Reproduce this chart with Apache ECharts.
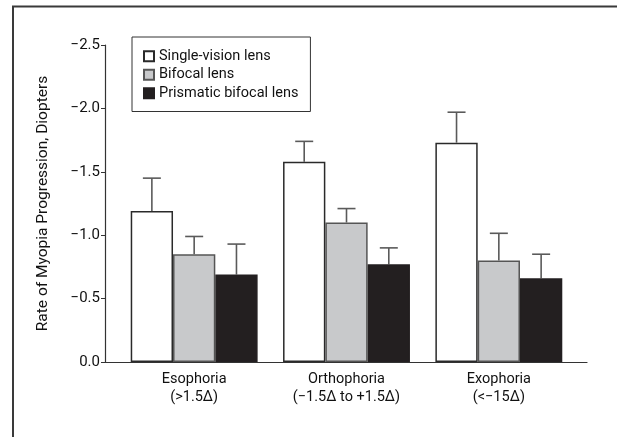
<!DOCTYPE html>
<html>
<head>
<meta charset="utf-8">
<script src="https://cdn.jsdelivr.net/npm/echarts@6/dist/echarts.min.js"></script>
<style>html,body{margin:0;padding:0;background:#fff}#c{width:617px;height:437px}</style>
</head>
<body>
<div id="c"></div>
<script>
const categories = ['Esophoria\n(>1.5\u0394)', 'Orthophoria\n(\u22121.5\u0394 to +1.5\u0394)', 'Exophoria\n(<\u221215\u0394)'];
const seriesNames = ['Single-vision lens', 'Bifocal lens', 'Prismatic bifocal lens'];
const singleVision = [-1.19, -1.58, -1.73];
const singleVisionErr = [0.26, 0.16, 0.24];
const bifocal = [-0.85, -1.10, -0.80];
const bifocalErr = [0.14, 0.11, 0.215];
const prismatic = [-0.69, -0.77, -0.66];
const prismaticErr = [0.24, 0.13, 0.19];
const yTicks = [0, -0.5, -1.0, -1.5, -2.0, -2.5];

const FONT = "Roboto, 'Liberation Sans Narrow', sans-serif";
const values = [singleVision, bifocal, prismatic];
const errs = [singleVisionErr, bifocalErr, prismaticErr];
const fills = ['#ffffff', '#c8c9cb', '#231f20'];
const borders = ['#2a2a2a', '#555555', '#231f20'];
const BAR_W = 42.3;

const chart = echarts.init(document.getElementById('c'), null, {renderer: 'canvas'});

const series = [];
values.forEach((vals, i) => {
  series.push({
    name: seriesNames[i], type: 'bar', xAxisIndex: 0, yAxisIndex: 0,
    data: vals, barWidth: BAR_W, barGap: '0%',
    itemStyle: {color: fills[i], borderColor: borders[i], borderWidth: 1.5},
    emphasis: {disabled: true}, z: 2
  });
});
values.forEach((vals, i) => {
  series.push({
    type: 'custom', xAxisIndex: 0, yAxisIndex: 0, z: 1,
    data: vals.map((v, k) => [k, v, v - errs[i][k]]),
    renderItem: function (params, api) {
      const base = api.coord([api.value(0), api.value(1)]);
      const top = api.coord([api.value(0), api.value(2)]);
      const x = base[0] + (i - 1) * BAR_W;
      const cap = 9;
      const st = {stroke: '#5a5a5a', lineWidth: 1.6};
      return {type: 'group', children: [
        {type: 'line', shape: {x1: x, y1: base[1], x2: x, y2: top[1]}, style: st},
        {type: 'line', shape: {x1: x - cap, y1: top[1], x2: x + cap, y2: top[1]}, style: st}
      ]};
    }
  });
});

const yMin = Math.min(...yTicks), yMax = Math.max(...yTicks);

chart.setOption({
  animation: false,
  textStyle: {fontFamily: FONT},
  graphic: [{type: 'rect', shape: {x: 13, y: 6.5, width: 800, height: 600},
    style: {fill: 'none', stroke: '#3a3a3a', lineWidth: 2}, silent: true}],
  grid: [
    {left: 118, right: 42, top: 45, bottom: 75},
    {left: 105, right: 30, top: 45, bottom: 75}
  ],
  legend: {
    orient: 'vertical', left: 132, top: 37,
    data: seriesNames,
    icon: 'rect', itemWidth: 10, itemHeight: 10, itemGap: 2,
    padding: [11, 12, 10, 11],
    borderColor: '#333', borderWidth: 1,
    textStyle: {fontFamily: FONT, fontSize: 14.5, color: '#111', lineHeight: 16.5},
    selectedMode: false
  },
  xAxis: [
    {gridIndex: 0, type: 'category', data: categories,
      axisLine: {show: false}, axisTick: {show: false},
      axisLabel: {fontFamily: FONT, fontSize: 14.5, color: '#111', lineHeight: 18, margin: 8}},
    {gridIndex: 1, type: 'value', min: 0, max: 1,
      axisLine: {show: true, lineStyle: {color: '#333', width: 1.2}},
      axisTick: {show: false}, axisLabel: {show: false}, splitLine: {show: false}}
  ],
  yAxis: [
    {gridIndex: 0, type: 'value', min: yMin, max: yMax, inverse: true, show: false},
    {gridIndex: 1, type: 'value', min: yMin, max: yMax, interval: 0.5, inverse: true,
      name: 'Rate of Myopia Progression, Diopters', nameLocation: 'middle', nameGap: 54,
      nameTextStyle: {fontFamily: FONT, fontSize: 15.5, color: '#111'},
      axisLine: {show: true, lineStyle: {color: '#333', width: 1.2}},
      axisTick: {show: true, inside: false, length: 4, lineStyle: {color: '#333'}},
      splitLine: {show: false},
      axisLabel: {fontFamily: FONT, fontSize: 15, color: '#111', margin: 5,
        formatter: v => v.toFixed(1).replace('-', '\u2212')}}
  ],
  series: series
});
</script>
</body>
</html>
